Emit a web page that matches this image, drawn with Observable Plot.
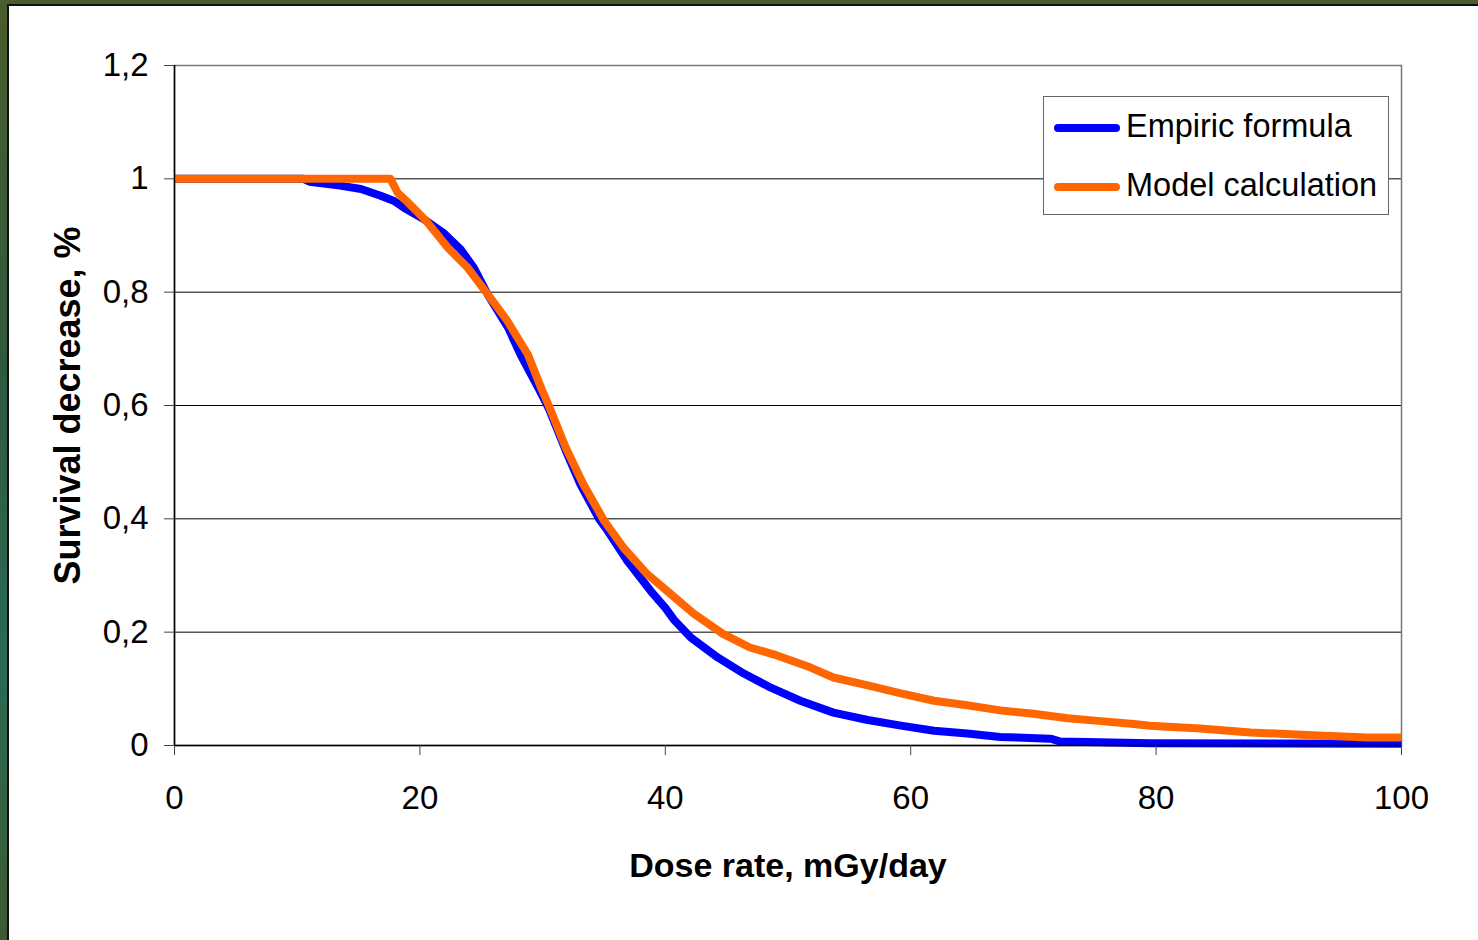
<!DOCTYPE html>
<html>
<head>
<meta charset="utf-8">
<script src="https://cdn.jsdelivr.net/npm/d3@7"></script>
<script src="https://cdn.jsdelivr.net/npm/@observablehq/plot@0.6"></script>
<style>
  html, body { margin: 0; padding: 0; }
  body {
    width: 1478px; height: 940px; overflow: hidden; position: relative;
    background: linear-gradient(180deg, #4a5d2c 0%, #2f5a3e 40%, #2a6a55 70%, #3c5a30 100%);
    font-family: "Liberation Sans", Arial, sans-serif;
  }
  #panel {
    position: absolute; left: 7px; top: 4px; right: 0; bottom: 0;
    background: #fff; border-left: 2px solid #111; border-top: 2px solid #111;
  }
  #chart { position: absolute; left: 0; top: 0; }
  #legend {
    position: absolute; left: 1043px; top: 96px; width: 346px; height: 119px;
    background: #fff; border: 1px solid #666; box-sizing: border-box;
  }
  .item { position: absolute; left: 0; font-size: 32.5px; color: #000; line-height: 1; white-space: nowrap; }
  .swatch { position: absolute; left: 10px; width: 66px; height: 8px; border-radius: 4px; }
  .label { position: absolute; left: 82px; }
</style>
</head>
<body>
<div id="panel"></div>
<div id="chart"></div>
<div id="legend"></div>
<script>
// Series
const seriesNames = ["Empiric formula", "Model calculation"];
const seriesColors = ["#0000ff", "#ff6600"];

const empiricDose = [0, 10.5, 11, 13.5, 15.2, 16.8, 17.9, 18.7, 20.3, 21.9, 23.3, 24.4, 25.5, 27.2, 28.2, 29.8, 30.5, 31.9, 33.1, 34.6, 35.3, 36.9, 38.8, 40.0, 40.7, 42.1, 44.3, 46.4, 48.6, 51, 53.7, 56.5, 59.2, 61.9, 64.6, 67.3, 71.4, 72.2, 79.5, 100];
const empiricValue = [1, 1, 0.995, 0.988, 0.982, 0.97, 0.961, 0.949, 0.929, 0.905, 0.876, 0.843, 0.797, 0.737, 0.69, 0.625, 0.595, 0.52, 0.46, 0.40, 0.379, 0.326, 0.273, 0.243, 0.222, 0.19, 0.155, 0.127, 0.102, 0.079, 0.058, 0.045, 0.035, 0.026, 0.021, 0.015, 0.012, 0.007, 0.004, 0.003];

const modelDose = [0, 17.6, 18.2, 18.9, 20.5, 22.3, 23.9, 25.5, 27.1, 28.8, 29.9, 30.5, 31.9, 33.3, 35.0, 36.6, 38.5, 40.4, 42.3, 44.7, 46.9, 49.1, 51.8, 53.7, 56.5, 59.2, 61.9, 64.6, 67.3, 70, 72.8, 75.5, 78.2, 79.5, 83.6, 87.7, 91.8, 97.2, 100];
const modelValue = [1, 1, 0.975, 0.961, 0.926, 0.878, 0.843, 0.797, 0.75, 0.69, 0.63, 0.6, 0.525, 0.462, 0.397, 0.349, 0.303, 0.268, 0.233, 0.197, 0.173, 0.159, 0.138, 0.12, 0.106, 0.092, 0.079, 0.071, 0.062, 0.056, 0.048, 0.043, 0.038, 0.035, 0.03, 0.023, 0.019, 0.014, 0.014];

const xTicks = [0, 20, 40, 60, 80, 100];
const yTicks = [0, 0.2, 0.4, 0.6, 0.8, 1, 1.2];
const gridValues = [0.2, 0.4, 0.6, 0.8, 1];
const xTitle = "Dose rate, mGy/day";
const yTitle = "Survival decrease, %";

const empiric = empiricDose.map((d, i) => ({dose: d, value: empiricValue[i]}));
const model = modelDose.map((d, i) => ({dose: d, value: modelValue[i]}));

const chart = Plot.plot({
  width: 1478,
  height: 940,
  marginLeft: 174,
  marginRight: 77,
  marginTop: 65,
  marginBottom: 195,
  style: {fontFamily: "'Liberation Sans', Arial, sans-serif", fontSize: "33px", color: "#000", background: "transparent", overflow: "visible"},
  x: {domain: [0, 100]},
  y: {domain: [0, 1.2]},
  marks: [
    Plot.ruleY(gridValues, {stroke: "#000", strokeWidth: 1}),
    Plot.frame({stroke: "#777", strokeWidth: 1.5}),
    Plot.line(empiric, {x: "dose", y: "value", stroke: seriesColors[0], strokeWidth: 8, strokeLinejoin: "round", strokeLinecap: "butt"}),
    Plot.line(model, {x: "dose", y: "value", stroke: seriesColors[1], strokeWidth: 8, strokeLinejoin: "round", strokeLinecap: "butt"}),
    Plot.ruleX([0], {stroke: "#000", strokeWidth: 1.5}),
    Plot.ruleY([0], {stroke: "#000", strokeWidth: 1.5}),
    Plot.axisX({ticks: xTicks, tickSize: 10, tickPadding: 30, fontSize: 33, label: null, stroke: "#444"}),
    Plot.axisY({ticks: yTicks, tickSize: 10, tickPadding: 16, fontSize: 33, label: null, stroke: "#444",
      tickFormat: d => String(d).replace(".", ",")}),
    Plot.text([xTitle], {text: d => d, frameAnchor: "bottom", dy: 131, fontSize: 34, fontWeight: "bold", fill: "#000"}),
    Plot.text([yTitle], {text: d => d, frameAnchor: "left", textAnchor: "middle", rotate: -90, dx: -106, fontSize: 36, fontWeight: "bold", fill: "#000"})
  ]
});
document.getElementById("chart").appendChild(chart);

// Legend
const legend = document.getElementById("legend");
const tops = [31, 90];
seriesNames.forEach((name, i) => {
  const sw = document.createElement("div");
  sw.className = "swatch";
  sw.style.background = seriesColors[i];
  sw.style.top = (tops[i] - 4) + "px";
  legend.appendChild(sw);
  const lb = document.createElement("div");
  lb.className = "item label";
  lb.textContent = name;
  lb.style.top = (tops[i] - 18) + "px";
  legend.appendChild(lb);
});
</script>
</body>
</html>
